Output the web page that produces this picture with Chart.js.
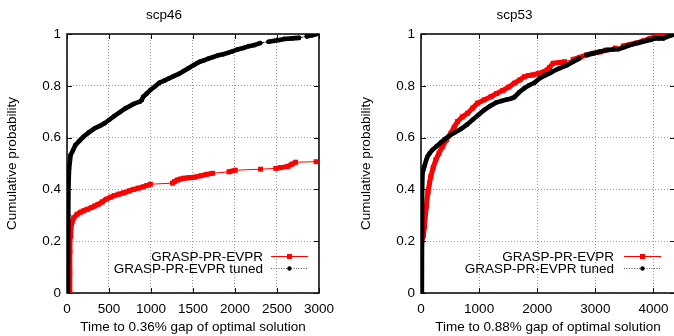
<!DOCTYPE html>
<html>
<head>
<meta charset="utf-8">
<script src="https://cdn.jsdelivr.net/npm/chart.js@4"></script>
<style>
  html, body { margin: 0; padding: 0; background: #fff; overflow: hidden; width: 674px; height: 336px; }
  canvas { position: absolute; top: 0; }
</style>
</head>
<body>
<canvas id="chartScp46" width="342" height="336" style="left:0"></canvas>
<canvas id="chartScp53" width="335" height="336" style="left:354px"></canvas>
<script>
// series names
const seriesNames = ["GRASP-PR-EVPR", "GRASP-PR-EVPR tuned"];

// scp46 - time to 0.36% gap
const scp46RedTime = [0, 30, 33, 35, 38, 45, 62, 80, 120, 160, 196, 240, 293, 330, 369, 420, 466, 520, 562, 620,
  677, 740, 792, 850, 908, 950, 993, 1254, 1280, 1312, 1350, 1389, 1450, 1512, 1600, 1658, 1735, 1927, 2004, 2304,
  2485, 2542, 2630, 2676, 2722, 2965];
const scp46RedProb = [0, 0, 0.08, 0.16, 0.22, 0.25, 0.275, 0.29, 0.304, 0.312, 0.317, 0.323, 0.33, 0.336, 0.342, 0.352, 0.362, 0.37, 0.376, 0.382,
  0.387, 0.394, 0.40, 0.405, 0.41, 0.415, 0.42, 0.424, 0.43, 0.436, 0.44, 0.443, 0.445, 0.447, 0.453, 0.458, 0.462, 0.468, 0.474, 0.478,
  0.481, 0.484, 0.489, 0.497, 0.505, 0.507];
const scp46BlackTime = [0, 10, 12, 15, 18, 25, 43, 70, 100, 150, 196, 260, 331, 390, 446, 500, 562, 630, 696, 750,
  792, 869, 890, 908, 950, 993, 1050, 1100, 1160, 1216, 1270, 1331, 1390, 1446, 1510, 1581, 1630, 1684, 1740, 1800,
  1860, 1915, 1970, 2030, 2100, 2165, 2230, 2300, 2400, 2473, 2530, 2588, 2680, 2761, 2857, 2920, 2972];
const scp46BlackProb = [0, 0, 0.15, 0.3, 0.42, 0.48, 0.533, 0.55, 0.571, 0.588, 0.603, 0.62, 0.636, 0.645, 0.655, 0.668, 0.683, 0.698, 0.713, 0.722,
  0.73, 0.739, 0.745, 0.758, 0.77, 0.784, 0.798, 0.812, 0.82, 0.829, 0.837, 0.846, 0.857, 0.868, 0.88, 0.893, 0.898, 0.905, 0.911, 0.918,
  0.922, 0.927, 0.933, 0.94, 0.946, 0.953, 0.957, 0.965, 0.97, 0.974, 0.977, 0.981, 0.983, 0.985, 0.991, 0.995, 1.0];

// scp53 - time to 0.88% gap
const scp53RedTime = [0, 3, 5, 8, 15, 40, 60, 90, 120, 147, 169, 210, 255, 310, 370, 440, 514, 570, 629, 710,
  802, 890, 974, 1090, 1204, 1300, 1405, 1510, 1606, 1700, 1779, 1850, 1922, 2020, 2124, 2210, 2272, 2380, 2474, 2618,
  2730, 2848, 2960, 3080, 3193, 3340, 3480, 3600, 3720, 3830, 3940, 4040, 4123, 4200, 4284, 4340];
const scp53RedProb = [0, 0, 0.08, 0.17, 0.2, 0.22, 0.257, 0.334, 0.39, 0.425, 0.45, 0.485, 0.514, 0.54, 0.566, 0.592, 0.617, 0.64, 0.662, 0.68,
  0.694, 0.714, 0.733, 0.746, 0.758, 0.77, 0.782, 0.795, 0.81, 0.823, 0.835, 0.84, 0.842, 0.848, 0.855, 0.87, 0.887, 0.89, 0.893, 0.902,
  0.91, 0.919, 0.925, 0.931, 0.938, 0.946, 0.954, 0.96, 0.966, 0.974, 0.983, 0.99, 0.995, 0.996, 0.996, 1.0];
const scp53BlackTime = [0, 15, 16, 18, 20, 26, 60, 90, 112, 150, 198, 270, 342, 410, 486, 580, 687, 790, 888, 990,
  1089, 1190, 1290, 1380, 1463, 1540, 1606, 1690, 1779, 1860, 1951, 2043, 2152, 2216, 2325, 2388, 2514, 2618, 2720, 2848,
  2960, 3090, 3193, 3300, 3394, 3480, 3560, 3652, 3760, 3882, 3960, 4026, 4100, 4169, 4238, 4314, 4353];
const scp53BlackProb = [0, 0, 0.1, 0.25, 0.4, 0.463, 0.49, 0.514, 0.527, 0.54, 0.553, 0.567, 0.581, 0.594, 0.607, 0.62, 0.633, 0.65, 0.669, 0.688,
  0.707, 0.722, 0.735, 0.741, 0.746, 0.75, 0.756, 0.775, 0.791, 0.802, 0.812, 0.829, 0.842, 0.849, 0.862, 0.868, 0.88, 0.893, 0.905, 0.919,
  0.926, 0.932, 0.938, 0.94, 0.941, 0.948, 0.954, 0.961, 0.967, 0.974, 0.978, 0.983, 0.983, 0.983, 0.99, 0.996, 1.0];

// tick labels
const scp46XTicks = [0, 500, 1000, 1500, 2000, 2500, 3000];
const scp53XTicks = [0, 1000, 2000, 3000, 4000];
const yTicks = [0, 0.2, 0.4, 0.6, 0.8, 1];

Chart.defaults.font.family = '"Liberation Sans", Arial, sans-serif';
Chart.defaults.font.size = 13.5;
Chart.defaults.color = "#000";

const toPoints = (xs, ys) => xs.map((x, i) => ({ x, y: ys[i] }));
// dense stretches of markers (incl. the near-vertical start) look like a thick band
const isDense = c => {
  const dx = Math.abs(c.p1.x - c.p0.x), dy = Math.abs(c.p1.y - c.p0.y);
  return dx < 3 || Math.hypot(dx, dy) < 8;
};

// gnuplot-ish frame with inward ticks
const framePlugin = {
  id: "frame",
  beforeDatasetsDraw(chart) {
    const { ctx, chartArea: a, scales } = chart;
    ctx.save();
    ctx.strokeStyle = "#111";
    ctx.lineWidth = 1;
    scales.x.ticks.forEach(t => {
      const px = Math.round(scales.x.getPixelForValue(t.value)) + 0.5;
      ctx.beginPath();
      ctx.moveTo(px, a.bottom); ctx.lineTo(px, a.bottom - 5);
      ctx.moveTo(px, a.top); ctx.lineTo(px, a.top + 5);
      ctx.stroke();
    });
    scales.y.ticks.forEach(t => {
      const py = Math.round(scales.y.getPixelForValue(t.value)) + 0.5;
      ctx.beginPath();
      ctx.moveTo(a.left, py); ctx.lineTo(a.left + 5, py);
      ctx.moveTo(a.right, py); ctx.lineTo(a.right - 5, py);
      ctx.stroke();
    });
    ctx.lineWidth = 1.6;
    ctx.strokeRect(a.left, a.top, a.right - a.left, a.bottom - a.top);
    ctx.restore();
  }
};

const legendPlugin = {
  id: "boxLegend",
  afterDatasetsDraw(chart, args, opts) {
    const { ctx, chartArea: a } = chart;
    const textX = a.right - opts.textOffset;
    const x0 = a.right - opts.lineFrom, x1 = a.right - opts.lineTo;
    const rows = [a.bottom - 37, a.bottom - 25];
    ctx.save();
    ctx.font = '13.5px "Liberation Sans", Arial, sans-serif';
    ctx.fillStyle = "#000";
    ctx.textAlign = "right";
    ctx.textBaseline = "middle";
    rows.forEach((y, i) => ctx.fillText(seriesNames[i], textX, y + 1));
    // red sample
    ctx.strokeStyle = "#ff0000"; ctx.lineWidth = 1;
    ctx.beginPath(); ctx.moveTo(x0, rows[0] + 0.5); ctx.lineTo(x1, rows[0] + 0.5); ctx.stroke();
    ctx.fillStyle = "#ff0000";
    ctx.fillRect((x0 + x1) / 2 - 2.5, rows[0] - 2, 5, 5);
    // black sample
    ctx.strokeStyle = "#555"; ctx.setLineDash([1, 1.5]);
    ctx.beginPath(); ctx.moveTo(x0, rows[1] + 0.5); ctx.lineTo(x1, rows[1] + 0.5); ctx.stroke();
    ctx.setLineDash([]);
    ctx.fillStyle = "#000";
    ctx.beginPath(); ctx.arc((x0 + x1) / 2, rows[1] + 0.5, 2.2, 0, Math.PI * 2); ctx.fill();
    ctx.restore();
  }
};

function makeChart(id, title, xTitle, red, black, xMax, xTicks, legendOpts) {
  const ctx = document.getElementById(id).getContext("2d");
  return new Chart(ctx, {
    type: "scatter",
    data: {
      datasets: [
        {
          label: seriesNames[1], data: black, showLine: true,
          borderColor: "#000", borderWidth: 1, borderDash: [1, 1.5],
          borderCapStyle: "round",
          pointRadius: 2.3, pointBackgroundColor: "#000", pointBorderWidth: 0,
          segment: {
            borderWidth: c => isDense(c) ? 4.6 : 1,
            borderDash: c => isDense(c) ? [] : [1, 1.5]
          }
        },
        {
          label: seriesNames[0], data: red, showLine: true,
          borderColor: "#ff0000", borderWidth: 1,
          pointStyle: "rect", pointRadius: 3.5, pointBackgroundColor: "#ff0000", pointBorderWidth: 0,
          segment: {
            borderWidth: c => isDense(c) ? 5 : 1
          }
        }
      ]
    },
    options: {
      responsive: false,
      animation: false,
      events: [],
      layout: { padding: { left: 0, right: 14, top: 0, bottom: 0 } },
      plugins: {
        legend: { display: false },
        tooltip: { enabled: false },
        title: {
          display: true, text: title, color: "#000",
          font: { size: 13.5, weight: "normal" },
          padding: { top: 7, bottom: 10.8 }
        },
        boxLegend: legendOpts
      },
      scales: {
        x: {
          type: "linear", min: 0, max: xMax,
          afterFit: s => { s.height = 43; },
          afterBuildTicks: s => { s.ticks = xTicks.map(v => ({ value: v })); },
          ticks: { padding: 8, maxRotation: 0, autoSkip: false, color: "#000", callback: v => String(v) },
          grid: { color: "#9a9a9a", lineWidth: 1, drawTicks: false },
          border: { display: false, dash: [1, 2] },
          title: { display: true, text: xTitle, color: "#000", padding: { top: 0, bottom: 1 } }
        },
        y: {
          min: 0, max: 1,
          afterFit: s => { s.width = 67; },
          afterBuildTicks: s => { s.ticks = yTicks.map(v => ({ value: v })); },
          ticks: { padding: 6, color: "#000", callback: v => String(+v.toFixed(1)) },
          grid: { color: "#9a9a9a", lineWidth: 1, drawTicks: false },
          border: { display: false, dash: [1, 2] },
          title: { display: true, text: "Cumulative probability", color: "#000", padding: { top: 4, bottom: 0 } }
        }
      }
    },
    plugins: [framePlugin, legendPlugin]
  });
}

makeChart("chartScp46", "scp46", "Time to 0.36% gap of optimal solution",
  toPoints(scp46RedTime, scp46RedProb), toPoints(scp46BlackTime, scp46BlackProb),
  3000, scp46XTicks, { textOffset: 56, lineFrom: 48, lineTo: 11 });

makeChart("chartScp53", "scp53", "Time to 0.88% gap of optimal solution",
  toPoints(scp53RedTime, scp53RedProb), toPoints(scp53BlackTime, scp53BlackProb),
  4370, scp53XTicks, { textOffset: 61, lineFrom: 51, lineTo: 14 });
</script>
</body>
</html>
